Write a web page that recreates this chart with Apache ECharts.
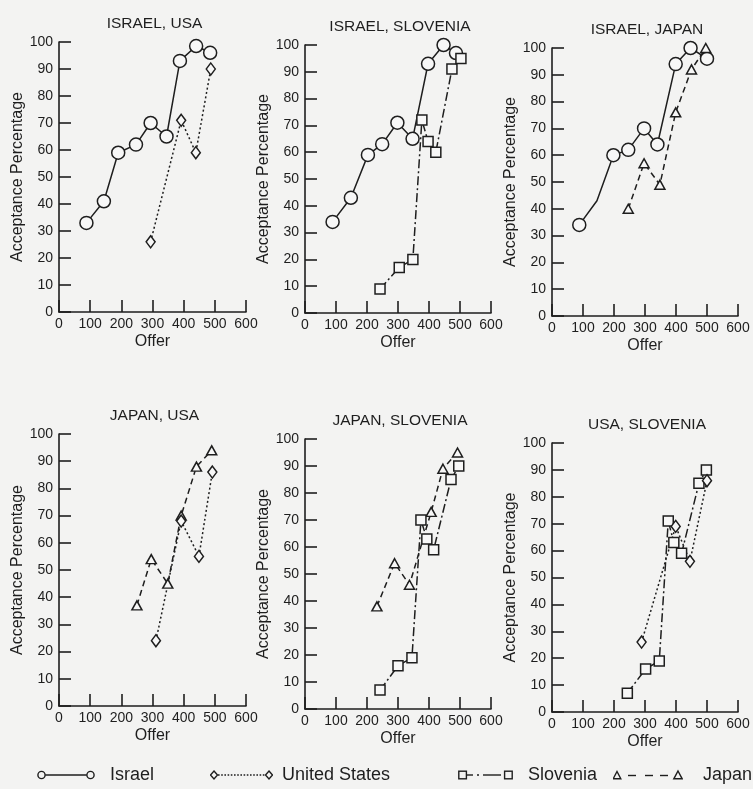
<!DOCTYPE html>
<html>
<head>
<meta charset="utf-8">
<script src="https://cdn.jsdelivr.net/npm/echarts@6/dist/echarts.min.js"></script>
<style>
html,body{margin:0;padding:0;background:#f3f3f2;}
#chart{width:753px;height:789px;}
</style>
</head>
<body>
<div id="chart"></div>
<script>
// ---- data ----
const panelTitles = ['ISRAEL, USA', 'ISRAEL, SLOVENIA', 'ISRAEL, JAPAN', 'JAPAN, USA', 'JAPAN, SLOVENIA', 'USA, SLOVENIA'];
const legendNames = ['Israel', 'United States', 'Slovenia', 'Japan'];

// Panel 1: Israel, USA
const p1IsraelX = [88, 144, 190, 247, 294, 345, 388, 440, 485];
const p1IsraelY = [33, 41, 59, 62, 70, 65, 93, 98.5, 96];
const p1UsaX = [294, 392, 439, 487];
const p1UsaY = [26, 71, 59, 90];
// Panel 2: Israel, Slovenia
const p2IsraelX = [89, 148, 203, 249, 298, 347, 397, 447, 487];
const p2IsraelY = [34, 43, 59, 63, 71, 65, 93, 100, 97];
const p2SloveniaX = [242, 304, 348, 377, 397, 422, 474, 503];
const p2SloveniaY = [9, 17, 20, 72, 64, 60, 91, 95];
// Panel 3: Israel, Japan
const p3IsraelX = [88, 145, 198, 246, 297, 340, 399, 447, 500];
const p3IsraelY = [34, 43, 60, 62, 70, 64, 94, 100, 96];
const p3JapanX = [246, 297, 348, 399, 450, 496];
const p3JapanY = [40, 57, 49, 76, 92, 100];
// Panel 4: Japan, USA
const p4JapanX = [250, 296, 349, 392, 441, 490];
const p4JapanY = [37, 54, 45, 70, 88, 94];
const p4UsaX = [311, 392, 449, 492];
const p4UsaY = [24, 68, 55, 86];
// Panel 5: Japan, Slovenia
const p5JapanX = [232, 289, 337, 407, 445, 492];
const p5JapanY = [38, 54, 46, 73, 89, 95];
const p5SloveniaX = [242, 300, 345, 374, 393, 415, 471, 496];
const p5SloveniaY = [7, 16, 19, 70, 63, 59, 85, 90];
// Panel 6: USA, Slovenia
const p6SloveniaX = [243, 302, 346, 375, 393, 418, 474, 498];
const p6SloveniaY = [7, 16, 19, 71, 63, 59, 85, 90];
const p6UsaX = [289, 399, 445, 500];
const p6UsaY = [26, 69, 56, 86];

// ---- styles ----
const INK = '#1e1e1e';
const FONT = "'Liberation Sans', Arial, Helvetica, sans-serif";
const styles = {
  'Israel':        { symbol: 'circle',  size: 13, dash: 'solid' },
  'United States': { symbol: 'diamond', size: [9, 12], dash: [2, 2.5] },
  'Slovenia':      { symbol: 'rect',    size: 10, dash: [9, 3, 2, 3] },
  'Japan':         { symbol: 'triangle',size: [10, 9], dash: [6, 4] }
};

const panels = [
  { series: [['Israel', p1IsraelX, p1IsraelY], ['United States', p1UsaX, p1UsaY]] },
  { series: [['Israel', p2IsraelX, p2IsraelY], ['Slovenia', p2SloveniaX, p2SloveniaY]] },
  { series: [['Israel', p3IsraelX, p3IsraelY, [1]], ['Japan', p3JapanX, p3JapanY]] },
  { series: [['Japan', p4JapanX, p4JapanY], ['United States', p4UsaX, p4UsaY]] },
  { series: [['Japan', p5JapanX, p5JapanY], ['Slovenia', p5SloveniaX, p5SloveniaY]] },
  { series: [['Slovenia', p6SloveniaX, p6SloveniaY], ['United States', p6UsaX, p6UsaY]] }
];

// layout of each panel's plot area (pixels)
const grids = [
  { left: 59,  top: 42,  width: 187, height: 270 },
  { left: 305, top: 45,  width: 186, height: 268 },
  { left: 552, top: 48,  width: 186, height: 268 },
  { left: 59,  top: 434, width: 187, height: 272 },
  { left: 305, top: 439, width: 186, height: 270 },
  { left: 552, top: 443, width: 186, height: 269 }
];

// legend key icons (symbol - line - symbol) as small inline SVG images
function svgIcon(w, h, body) {
  const s = "<svg xmlns='http://www.w3.org/2000/svg' width='" + w + "' height='" + h +
    "' viewBox='0 0 " + w + " " + h + "'><g fill='none' stroke='" + INK + "' stroke-width='1.4'>" + body + "</g></svg>";
  return 'image://data:image/svg+xml;charset=utf-8,' + encodeURIComponent(s);
}
const legendIcons = [
  { w: 58, h: 12, gap: 15, left: 37, body:
    "<line x1='8.2' y1='6' x2='49.8' y2='6'/><circle cx='4.5' cy='6' r='3.6'/><circle cx='53.5' cy='6' r='3.6'/>" },
  { w: 63, h: 12, gap: 9, left: 210, body:
    "<line x1='8' y1='6' x2='55' y2='6' stroke-dasharray='1.6 1.6'/><path d='M4 2 L7.5 6 L4 10 L0.5 6 Z'/><path d='M59 2 L62.5 6 L59 10 L55.5 6 Z'/>" },
  { w: 55, h: 12, gap: 15, left: 458, body:
    "<rect x='0.8' y='2.2' width='7.6' height='7.6'/><rect x='46.6' y='2.2' width='7.6' height='7.6'/>" +
    "<line x1='8.4' y1='6' x2='15' y2='6'/><line x1='19' y1='6' x2='21' y2='6'/><line x1='25' y1='6' x2='43' y2='6'/>" },
  { w: 70, h: 12, gap: 20, left: 613, body:
    "<path d='M4 2.5 L7.8 9.8 L0.2 9.8 Z'/><path d='M65 2 L69.2 9.8 L60.8 9.8 Z'/>" +
    "<line x1='15' y1='6.5' x2='23' y2='6.5'/><line x1='32' y1='6.5' x2='40' y2='6.5'/><line x1='47' y1='6.5' x2='55' y2='6.5'/>" }
];

const option = {
  backgroundColor: '#f3f3f2',
  animation: false,
  title: [],
  grid: [],
  xAxis: [],
  yAxis: [],
  series: [],
  legend: []
};

grids.forEach((g, i) => {
  option.grid.push(Object.assign({ containLabel: false }, g));
  option.title.push({
    text: panelTitles[i],
    left: g.left + g.width / 2 - 3,
    top: g.top - 31,
    textAlign: 'center',
    textStyle: { fontFamily: FONT, fontSize: 15.5, fontWeight: 'normal', color: INK }
  });
  option.xAxis.push({
    type: 'value', gridIndex: i, min: 0, max: 600, interval: 100,
    name: 'Offer', nameLocation: 'middle', nameGap: 22,
    nameTextStyle: { fontFamily: FONT, fontSize: 16, color: INK },
    axisLine: { show: true, onZero: false, lineStyle: { color: INK, width: 1.6 } },
    axisTick: { show: true, inside: true, length: 12, lineStyle: { color: INK, width: 1.6 } },
    axisLabel: { fontFamily: FONT, fontSize: 14, color: INK, margin: 5 },
    splitLine: { show: false }
  });
  option.yAxis.push({
    type: 'value', gridIndex: i, min: 0, max: 100, interval: 10,
    name: 'Acceptance Percentage', nameLocation: 'middle', nameGap: 31,
    nameTextStyle: { fontFamily: FONT, fontSize: 16, color: INK },
    axisLine: { show: true, onZero: false, lineStyle: { color: INK, width: 1.6 } },
    axisTick: { show: true, inside: true, length: 12, lineStyle: { color: INK, width: 1.6 } },
    axisLabel: { fontFamily: FONT, fontSize: 14, color: INK, margin: 6 },
    splitLine: { show: false }
  });
  panels[i].series.forEach(([name, xs, ys, hidden]) => {
    const st = styles[name];
    option.series.push({
      type: 'line', name: name, xAxisIndex: i, yAxisIndex: i,
      data: xs.map((x, k) => (hidden && hidden.indexOf(k) >= 0)
        ? { value: [x, ys[k]], symbol: 'none' } : [x, ys[k]]),
      symbol: st.symbol, symbolSize: st.size, showAllSymbol: true,
      lineStyle: { color: INK, width: 1.5, type: st.dash },
      itemStyle: { color: '#f7f7f7', borderColor: INK, borderWidth: 1.5 },
      emphasis: { disabled: true },
      z: 3
    });
  });
});

legendNames.forEach((n, i) => {
  const ic = legendIcons[i];
  option.legend.push({
    data: [{ name: n, icon: svgIcon(ic.w, ic.h, ic.body) }],
    left: ic.left, top: 766, padding: 0,
    itemWidth: ic.w, itemHeight: ic.h, selectedMode: false,
    textStyle: { fontFamily: FONT, fontSize: 18, color: INK, padding: [0, 0, 0, ic.gap - 5] }
  });
});

const chart = echarts.init(document.getElementById('chart'), null, { renderer: 'canvas' });
chart.setOption(option);
</script>
</body>
</html>
